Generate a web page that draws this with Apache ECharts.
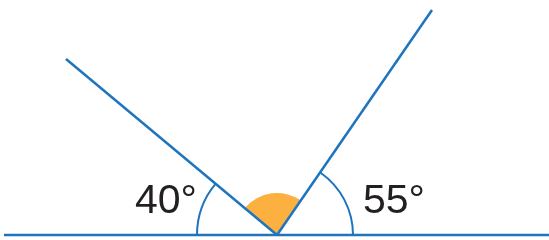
<!DOCTYPE html>
<html>
<head>
<meta charset="utf-8">
<script src="https://cdn.jsdelivr.net/npm/echarts@6/dist/echarts.min.js"></script>
<style>html,body{margin:0;padding:0;background:#fff;}#c{width:549px;height:240px;}</style>
</head>
<body>
<div id="c"></div>
<script>
// Geometry (data units = pixels, y downwards)
const vertex = [277, 235];
const baseLine = [[4, 235], [549, 235]];
const leftRay = [[277, 235], [66, 59]];
const rightRay = [[277, 235], [432, 10]];
// arcs: [cx, cy, radius, fromDeg, toDeg] (math angles, counter-clockwise)
const angleArcs = [[277, 235, 80, 140, 180], [277, 235, 76, 0, 55]];
const filledSector = [[277, 235, 42, 55, 140]];
// labels: [x, y, text]
const labelNames = ['40°', '55°'];
const labelPos = [[166, 202], [394, 202]];

const blue = '#1e74bd';
const orange = '#fbb040';

const chart = echarts.init(document.getElementById('c'), null, {renderer: 'canvas'});

function arcItem(filled) {
  return function (params, api) {
    const c = api.coord([api.value(0), api.value(1)]);
    const r = api.size([api.value(2), 0])[0];
    const a1 = -api.value(4) * Math.PI / 180;
    const a2 = -api.value(3) * Math.PI / 180;
    if (filled) {
      return {type: 'sector', shape: {cx: c[0], cy: c[1], r0: 0, r: r, startAngle: a1, endAngle: a2, clockwise: true},
        style: {fill: orange}};
    }
    return {type: 'arc', shape: {cx: c[0], cy: c[1], r: r, startAngle: a1, endAngle: a2, clockwise: true},
      style: {stroke: blue, lineWidth: 2, fill: null}};
  };
}

const lineStyle = {color: blue, width: 2.5};

chart.setOption({
  animation: false,
  grid: {left: 0, right: 0, top: 0, bottom: 0},
  xAxis: {type: 'value', min: 0, max: 549, show: false},
  yAxis: {type: 'value', min: 0, max: 240, inverse: true, show: false},
  series: [
    {type: 'custom', renderItem: arcItem(true), data: filledSector, z: 1},
    {type: 'custom', renderItem: arcItem(false), data: angleArcs, z: 2},
    {type: 'line', data: baseLine, symbol: 'none', lineStyle: lineStyle, z: 3},
    {type: 'line', data: leftRay, symbol: 'none', lineStyle: lineStyle, z: 3},
    {type: 'line', data: rightRay, symbol: 'none', lineStyle: lineStyle, z: 3},
    {type: 'scatter', symbolSize: 0, z: 4, itemStyle: {opacity: 1},
      data: labelNames.map((n, i) => ({name: n, value: labelPos[i]})),
      label: {show: true, position: 'inside', formatter: '{b}', color: '#231f20', opacity: 1,
        fontSize: 41, fontFamily: 'Liberation Sans, Arial, sans-serif'}}
  ]
});
</script>
</body>
</html>
